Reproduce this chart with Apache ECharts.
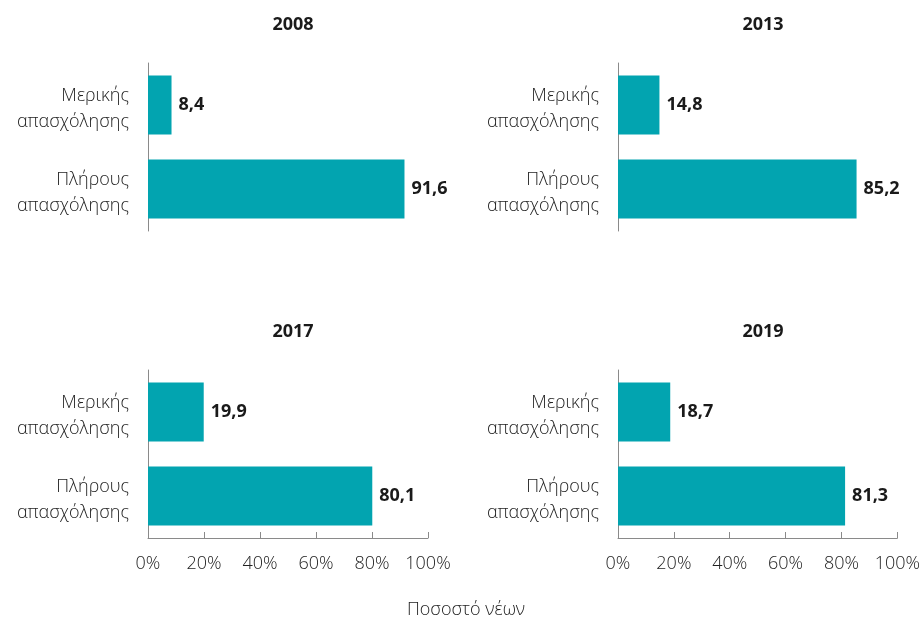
<!DOCTYPE html>
<html>
<head>
<meta charset="utf-8">
<script src="https://cdn.jsdelivr.net/npm/echarts@6/dist/echarts.min.js"></script>
<style>
  html, body { margin: 0; padding: 0; background: #fff; }
  #chart { width: 923px; height: 619px; }
</style>
</head>
<body>
<div id="chart"></div>
<script>
const categories = ["Μερικής\nαπασχόλησης", "Πλήρους\nαπασχόλησης"];
const years = ["2008", "2013", "2017", "2019"];
const values2008 = [8.4, 91.6];
const values2013 = [14.8, 85.2];
const values2017 = [19.9, 80.1];
const values2019 = [18.7, 81.3];
const tickLabels = ["0%", "20%", "40%", "60%", "80%", "100%"];
const axisTitle = "Ποσοστό νέων";

const allValues = [values2008, values2013, values2017, values2019];
const font = "'Open Sans', 'Noto Sans', sans-serif";
const barColor = "#02A4B0";

// panel positions: [left, top]
const panels = [[148, 63], [618, 63], [148, 370], [618, 370]];
const gridW = 280, gridH = 168;

const grid = [], xAxis = [], yAxis = [], series = [], title = [];
panels.forEach((p, i) => {
  const bottomRow = i >= 2;
  grid.push({ left: p[0], top: p[1], width: gridW, height: gridH });
  title.push({
    text: years[i],
    left: p[0] + gridW / 2,
    top: p[1] - 52,
    textAlign: "center",
    textStyle: { fontFamily: font, fontSize: 18, fontWeight: "bold", color: "#1a1a1a" }
  });
  xAxis.push({
    gridIndex: i,
    type: "value",
    min: 0,
    max: 100,
    interval: 20,
    splitLine: { show: false },
    axisLine: { show: bottomRow, lineStyle: { color: "#8a8a8a", width: 1 } },
    axisTick: { show: bottomRow, inside: true, length: 6, lineStyle: { color: "#8a8a8a" } },
    axisLabel: {
      show: bottomRow,
      margin: 17,
      fontFamily: font,
      fontSize: 18,
      fontWeight: 300,
      color: "#222",
      formatter: (v) => tickLabels[Math.round(v / 20)]
    }
  });
  yAxis.push({
    gridIndex: i,
    type: "category",
    inverse: true,
    data: categories,
    axisLine: { show: true, lineStyle: { color: "#8a8a8a", width: 1 } },
    axisTick: { show: false },
    axisLabel: {
      margin: 19,
      align: "right",
      // spacer line nudges the two text lines down a little
      formatter: (v) => "{s| }\n" + v.split("\n").map((t) => "{t|" + t + "}").join("\n"),
      rich: {
        s: { fontSize: 6, lineHeight: 8 },
        t: { fontFamily: font, fontSize: 18, fontWeight: 300, lineHeight: 26, color: "#222", align: "right" }
      }
    }
  });
  series.push({
    type: "bar",
    xAxisIndex: i,
    yAxisIndex: i,
    data: allValues[i],
    barWidth: 59,
    itemStyle: { color: barColor },
    label: {
      show: true,
      position: "right",
      distance: 7,
      fontFamily: font,
      fontSize: 18,
      fontWeight: "bold",
      color: "#1a1a1a",
      formatter: (d) => d.value.toFixed(1).replace(".", ",")
    }
  });
});

title.push({
  text: axisTitle,
  left: 461,
  top: 596,
  textAlign: "center",
  textStyle: { fontFamily: font, fontSize: 18, fontWeight: 300, color: "#222" }
});

const chart = echarts.init(document.getElementById("chart"));
chart.setOption({
  animation: false,
  title: title,
  grid: grid,
  xAxis: xAxis,
  yAxis: yAxis,
  series: series
});
</script>
</body>
</html>
